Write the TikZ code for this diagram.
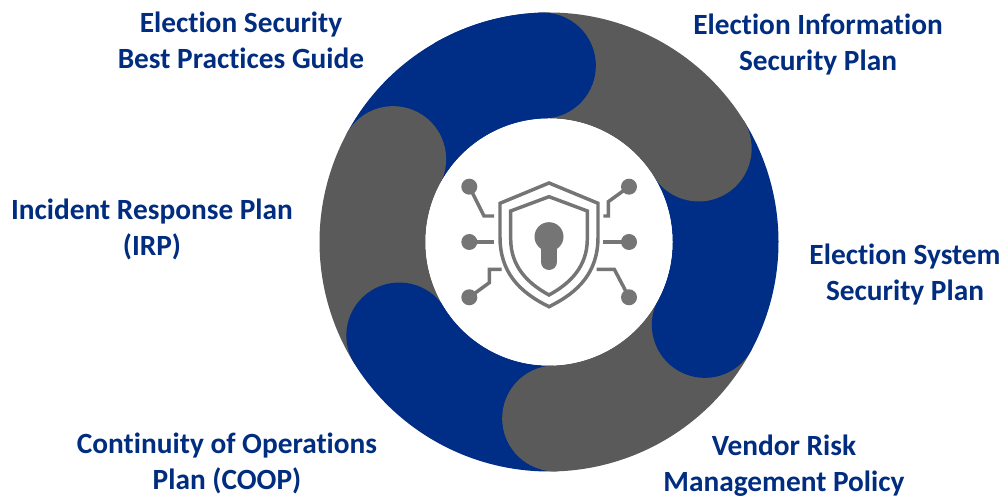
\documentclass[tikz,border=0pt]{standalone}
\usepackage{fontspec}
\setmainfont[Ligatures=CommonOff]{Carlito}
\definecolor{ringblue}{HTML}{002D85}
\definecolor{ringgray}{HTML}{5A5A5A}
\definecolor{icongray}{HTML}{757575}
\definecolor{labelblue}{HTML}{002D80}
\newcommand{\ringpiece}[3]{%
  \fill[#3] (#1:229.5) arc[start angle=#1, end angle=#2, radius=229.5]
    arc[start angle=#2, end angle=#2-180, radius=53]
    arc[start angle=#2, end angle=#1, radius=123.5] -- cycle;}
\tikzset{
  planlabel/.style={align=center, text=labelblue, font=\fontsize{22}{27}\selectfont\bfseries, inner sep=0pt},
  chipdot/.style={circle, fill=icongray, minimum size=12pt, inner sep=0pt},
  trace/.style={draw=icongray, line width=2.6pt}
}
\begin{document}
\begin{tikzpicture}[x=0.75pt, y=0.75pt]
  \useasboundingbox (0,0) rectangle (1003,498);
  \fill[white] (0,0) rectangle (1003,498);

  \begin{scope}[shift={(549,256)}]
    % ring pieces, each one laps over the next
    \ringpiece{152}{92}{ringblue}
    \ringpiece{212}{152}{ringgray}
    \ringpiece{272}{212}{ringblue}
    \ringpiece{332}{272}{ringgray}
    \ringpiece{32}{-28}{ringblue}
    \ringpiece{92}{32}{ringgray}
    \ringpiece{120}{92}{ringblue}
    \fill[white] (0,0) circle[radius=123.5];

    % shield
    \draw[trace] (0,59) -- (-49,38.7) -- (-49,5)
      .. controls (-49,-30) and (-30,-50) .. (0,-64.7)
      .. controls (30,-50) and (49,-30) .. (49,5) -- (49,38.7) -- cycle;
    \draw[trace] (0,45.3) -- (-38.3,31) -- (-38.3,3)
      .. controls (-38.3,-24) and (-22,-41) .. (0,-53)
      .. controls (22,-41) and (38.3,-24) .. (38.3,3) -- (38.3,31) -- cycle;
    \fill[icongray] (0,5.3) circle[radius=14.5];
    \draw[icongray, line width=12pt, line cap=round] (0,0) -- (0,-20);

    % circuit
    \node[chipdot] (dot-tl) at (-79.7,55.3) {};
    \node[chipdot] (dot-ml) at (-79.7,0) {};
    \node[chipdot] (dot-bl) at (-79.7,-55.3) {};
    \node[chipdot] (dot-tr) at (80,55.3) {};
    \node[chipdot] (dot-mr) at (80,0) {};
    \node[chipdot] (dot-br) at (80,-55.3) {};
    \draw[trace] (dot-tl.center) -- (-65,26) -- (-55,26);
    \draw[trace] (dot-ml.center) -- (-55,0);
    \draw[trace] (dot-bl.center) -- (-59.7,-40.7) -- (-59.7,-27.3) -- (-47.3,-27.3);
    \draw[trace] (dot-tr.center) -- (59.3,40.3) -- (59.3,26) -- (54.3,26);
    \draw[trace] (dot-mr.center) -- (54.3,0);
    \draw[trace] (dot-br.center) -- (65.3,-27.3) -- (47.7,-27.3);
  \end{scope}

  \node[planlabel] (best-practices) at (241,457.5) {Election Security\\Best Practices Guide};
  \node[planlabel] (info-security) at (818,453) {Election Information\\Security Plan};
  \node[planlabel] (incident-response) at (152,269) {Incident Response Plan\\(IRP)};
  \node[planlabel] (system-security) at (905,223) {Election System\\Security Plan};
  \node[planlabel] (continuity) at (227,35) {Continuity of Operations\\Plan (COOP)};
  \node[planlabel] (vendor-risk) at (784,32) {Vendor Risk\\Management Policy};
\end{tikzpicture}
\end{document}
